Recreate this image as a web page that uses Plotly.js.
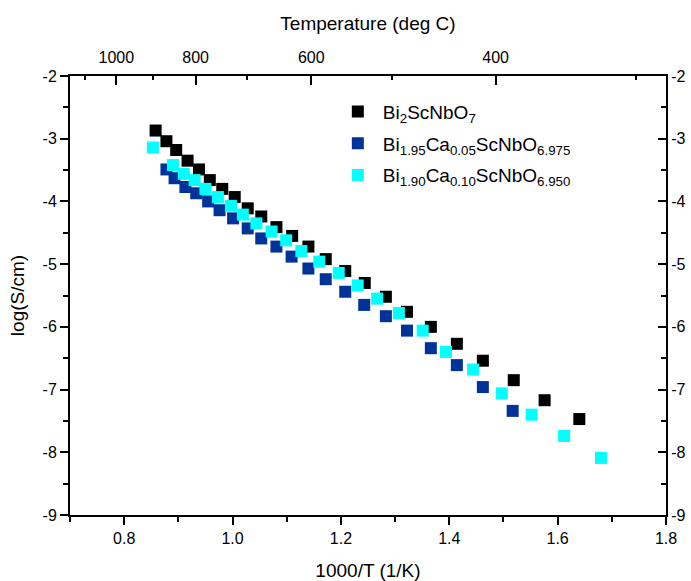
<!DOCTYPE html>
<html>
<head>
<meta charset="utf-8">
<script src="https://cdn.plot.ly/plotly-3.0.1.min.js"></script>
<style>html,body{margin:0;padding:0;background:#fff;}#chart{width:691px;height:581px;}</style>
</head>
<body>
<div id="chart"></div>
<script>
// Series names
const seriesNames = [
  "Bi<sub>2</sub>ScNbO<sub>7</sub>",
  "Bi<sub>1.95</sub>Ca<sub>0.05</sub>ScNbO<sub>6.975</sub>",
  "Bi<sub>1.90</sub>Ca<sub>0.10</sub>ScNbO<sub>6.950</sub>"
];

// Bi2ScNbO7
const x0 = [0.858,0.878,0.896,0.917,0.938,0.958,0.981,1.004,1.028,1.053,1.081,1.110,1.140,1.172,1.208,1.244,1.283,1.322,1.366,1.414,1.462,1.519,1.576,1.640];
const y0 = [-2.87,-3.04,-3.18,-3.35,-3.49,-3.66,-3.80,-3.93,-4.11,-4.24,-4.41,-4.55,-4.72,-4.92,-5.11,-5.30,-5.52,-5.76,-6.00,-6.27,-6.54,-6.85,-7.17,-7.47];

// Bi1.95Ca0.05ScNbO6.975
const x1 = [0.878,0.893,0.913,0.933,0.955,0.976,1.001,1.028,1.053,1.081,1.109,1.140,1.172,1.208,1.243,1.283,1.322,1.366,1.414,1.462,1.517];
const y1 = [-3.49,-3.63,-3.77,-3.87,-4.00,-4.14,-4.27,-4.43,-4.59,-4.72,-4.88,-5.07,-5.24,-5.44,-5.65,-5.83,-6.06,-6.34,-6.61,-6.96,-7.34];

// Bi1.90Ca0.10ScNbO6.950
const x2 = [0.853,0.890,0.910,0.930,0.950,0.973,0.997,1.019,1.044,1.072,1.099,1.127,1.160,1.196,1.231,1.267,1.307,1.351,1.394,1.444,1.497,1.552,1.612,1.680];
const y2 = [-3.14,-3.42,-3.56,-3.66,-3.80,-3.93,-4.07,-4.21,-4.35,-4.48,-4.62,-4.79,-4.96,-5.14,-5.34,-5.55,-5.78,-6.06,-6.40,-6.68,-7.06,-7.40,-7.74,-8.09];

const colors = ["#000000", "#003399", "#00ffff"];

// Axis tick labels
const yTickVals = [-9, -8, -7, -6, -5, -4, -3, -2];
const yTickText = ["-9", "-8", "-7", "-6", "-5", "-4", "-3", "-2"];
const xTickVals = [0.8, 1.0, 1.2, 1.4, 1.6, 1.8];
const xTickText = ["0.8", "1.0", "1.2", "1.4", "1.6", "1.8"];

// Top axis: temperature labels (deg C)
const tempMajor = [1000, 800, 600, 400];
const tempMinor = [1100, 900, 700, 500, 300];
const toInvK = t => 1000 / (t + 273.15);

const FONT = "Liberation Sans, Arial, sans-serif";

const traces = [
  {x: x0, y: y0, name: seriesNames[0], color: colors[0]},
  {x: x1, y: y1, name: seriesNames[1], color: colors[1]},
  {x: x2, y: y2, name: seriesNames[2], color: colors[2]}
].map((s, i) => ({
  type: "scatter", mode: "markers", x: s.x, y: s.y, name: s.name,
  legendgroup: "g" + i,
  marker: {symbol: "square", size: 12, color: s.color, line: {width: 0}},
  cliponaxis: false
}));

// invisible trace so the secondary (top/right) axes are drawn
traces.push({
  type: "scatter", mode: "markers", x: x0, y: y0, xaxis: "x2", yaxis: "y2",
  marker: {opacity: 0, size: 1}, showlegend: false, hoverinfo: "skip"
});

const axisCommon = {
  showline: true, linecolor: "#000", linewidth: 2,
  showgrid: false, zeroline: false,
  tickcolor: "#000", tickwidth: 2,
  tickfont: {family: FONT, size: 16, color: "#000"}
};

const layout = {
  width: 691, height: 581,
  paper_bgcolor: "#fff", plot_bgcolor: "#fff",
  margin: {l: 70, r: 25, t: 76, b: 66, pad: 0},
  showlegend: true,
  legend: {
    x: 0.441, y: 0.962, xanchor: "left", yanchor: "top",
    bgcolor: "rgba(0,0,0,0)", borderwidth: 0,
    font: {family: FONT, size: 19, color: "#000"},
    tracegroupgap: 4, itemwidth: 40
  },
  xaxis: Object.assign({}, axisCommon, {
    range: [0.7, 1.8],
    tickmode: "array", tickvals: xTickVals, ticktext: xTickText,
    ticks: "outside", ticklen: 8,
    minor: {dtick: 0.1, tick0: 0, ticks: "outside", ticklen: 5, tickcolor: "#000", tickwidth: 2},
    title: {text: "1000/T (1/K)", font: {family: FONT, size: 19, color: "#000"}, standoff: 17}
  }),
  xaxis2: Object.assign({}, axisCommon, {
    overlaying: "x", side: "top", anchor: "y",
    range: [0.7, 1.8],
    tickmode: "array",
    tickvals: tempMajor.map(toInvK),
    ticktext: tempMajor.map(String),
    ticks: "inside", ticklen: 9, ticklabelstandoff: 5,
    minor: {tickmode: "array", tickvals: tempMinor.map(toInvK), ticks: "inside", ticklen: 4, tickcolor: "#000", tickwidth: 2},
    title: {text: "Temperature (deg C)", font: {family: FONT, size: 19, color: "#000"}, standoff: 13}
  }),
  yaxis: Object.assign({}, axisCommon, {
    range: [-9, -2],
    tickmode: "array", tickvals: yTickVals, ticktext: yTickText,
    ticks: "outside", ticklen: 8,
    minor: {dtick: 0.5, tick0: 0, ticks: "outside", ticklen: 5, tickcolor: "#000", tickwidth: 2},
    title: {text: "log(S/cm)", font: {family: FONT, size: 19, color: "#000"}, standoff: 13}
  }),
  yaxis2: Object.assign({}, axisCommon, {
    overlaying: "y", side: "right", anchor: "x",
    range: [-9, -2],
    tickmode: "array", tickvals: yTickVals, ticktext: yTickText,
    ticks: "inside", ticklen: 8,
    minor: {dtick: 0.5, tick0: 0, ticks: "inside", ticklen: 5, tickcolor: "#000", tickwidth: 2}
  })
};

Plotly.newPlot("chart", traces, layout, {staticPlot: true, displayModeBar: false});
</script>
</body>
</html>
